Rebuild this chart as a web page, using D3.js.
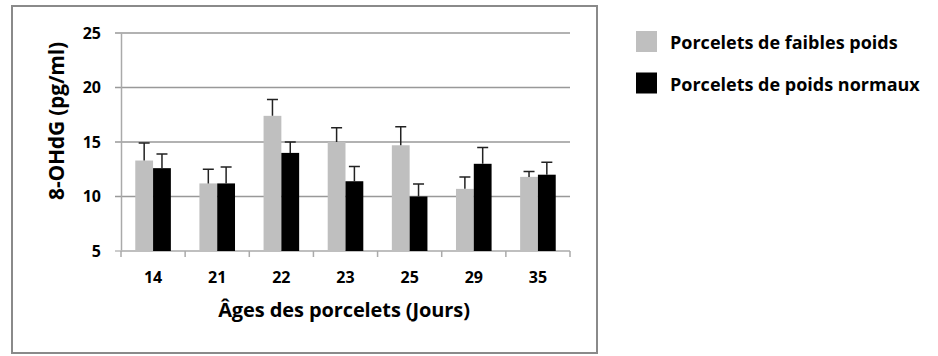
<!DOCTYPE html>
<html><head><meta charset="utf-8">
<script src="https://cdn.jsdelivr.net/npm/d3@7/dist/d3.min.js"></script>
<style>body{margin:0;background:#fff}svg{display:block}text{font-family:"Open Sans",Lato,sans-serif;font-weight:bold;fill:#000}</style>
</head><body><svg id="c" width="938" height="356"></svg>
<script>
const categories = ["14","21","22","23","25","29","35"];
const seriesNames = ["Porcelets de faibles poids","Porcelets de poids normaux"];
const lowWeight = [13.3,11.2,17.4,15.0,14.7,10.7,11.8];
const lowWeightErr = [1.6,1.3,1.5,1.3,1.7,1.1,0.5];
const normalWeight = [12.6,11.2,14.0,11.4,10.0,13.0,12.0];
const normalWeightErr = [1.3,1.5,1.0,1.35,1.15,1.5,1.15];
const yTicks = [5,10,15,20,25];
const yTitle = "8-OHdG (pg/ml)";
const xTitle = "Âges des porcelets (Jours)";

const svg = d3.select("#c");
const colors = ["#bfbfbf","#000000"];
const L=121,R=570,T=33,B=251;

svg.append("rect").attr("x",12).attr("y",6).attr("width",585).attr("height",347)
  .attr("fill","none").attr("stroke","#8a8a8a").attr("stroke-width",2);

const x = d3.scaleBand().domain(categories).range([L,R]).paddingInner(0).paddingOuter(0);
const y = d3.scaleLinear().domain([5,25]).range([B,T]);
const xs = d3.scaleBand().domain([0,1]).range([0,35.6]);

// gridlines
svg.append("g").selectAll("line").data(yTicks).join("line")
  .attr("x1",L-6).attr("x2",R).attr("y1",d=>y(d)).attr("y2",d=>y(d))
  .attr("stroke",d=>d===5?"#bbb":"#999").attr("stroke-width",1.5);

// y axis
const yAxis = svg.append("g").attr("transform",`translate(${L},0)`)
  .call(d3.axisLeft(y).tickValues(yTicks).tickSize(0).tickPadding(20));
yAxis.select(".domain").attr("stroke","#aaa").attr("stroke-width",1.5);
yAxis.selectAll("text").style("font-size","16px").attr("fill","#000");

// x axis
const xAxis = svg.append("g").attr("transform",`translate(0,${B})`);
xAxis.append("line").attr("x1",L).attr("x2",R).attr("stroke","#bbb").attr("stroke-width",1.5);
const bounds = categories.map(c=>x(c)).concat([R]);
xAxis.selectAll(".tk").data(bounds).join("line").attr("class","tk")
  .attr("x1",d=>d).attr("x2",d=>d).attr("y1",0).attr("y2",6).attr("stroke","#aaa").attr("stroke-width",1.5);
xAxis.selectAll(".lb").data(categories).join("text").attr("class","lb")
  .attr("x",d=>x(d)+x.bandwidth()/2).attr("y",32).attr("text-anchor","middle")
  .style("font-size","16px").text(d=>d);

const series = [
  {vals:lowWeight, err:lowWeightErr},
  {vals:normalWeight, err:normalWeightErr}
];
const off = (x.bandwidth()-35.6)/2;
series.forEach((s,i)=>{
  const g = svg.append("g");
  const bx = c=>x(c)+off+xs(i);
  const bw = xs.bandwidth();
  g.selectAll("rect").data(categories).join("rect")
    .attr("x",c=>bx(c)).attr("width",bw)
    .attr("y",(c,j)=>y(s.vals[j])).attr("height",(c,j)=>B-y(s.vals[j]))
    .attr("fill",colors[i]);
  g.selectAll(".eb").data(categories).join("path").attr("class","eb")
    .attr("d",(c,j)=>{const cx=bx(c)+bw/2, y0=y(s.vals[j]), y1=y(s.vals[j]+s.err[j]);
      return `M${cx},${y0}V${y1}M${cx-5.5},${y1}H${cx+5.5}`;})
    .attr("stroke","#222").attr("stroke-width",1.5).attr("fill","none");
});

// titles
svg.append("text").attr("transform","translate(64,121) rotate(-90)").attr("text-anchor","middle")
  .style("font-size","21px").style("letter-spacing","-0.2px").text(yTitle);
svg.append("text").attr("x",344).attr("y",317).attr("text-anchor","middle")
  .style("font-size","20px").style("letter-spacing","-0.1px").text(xTitle);

// legend
const lg = svg.append("g");
seriesNames.forEach((n,i)=>{
  lg.append("rect").attr("x",636).attr("y",31+i*41.5).attr("width",21).attr("height",21).attr("fill",colors[i]);
  lg.append("text").attr("x",670).attr("y",49+i*41.5).style("font-size","18px").style("letter-spacing","0px").text(n);
});
</script></body></html>
